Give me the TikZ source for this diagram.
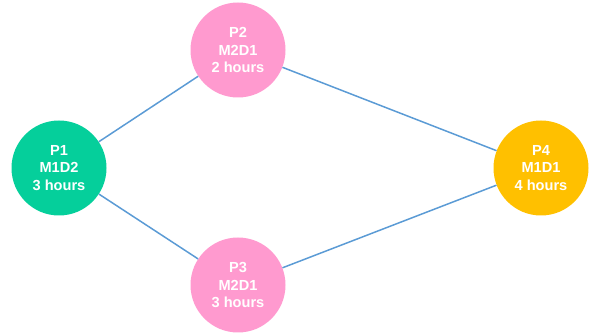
\documentclass[tikz,border=0pt]{standalone}
\usepackage{fontspec}
\setmainfont{Liberation Sans}
\definecolor{cgreen}{HTML}{05CF9B}
\definecolor{cpink}{HTML}{FF9ACF}
\definecolor{camber}{HTML}{FFC000}
\definecolor{cline}{HTML}{5B9BD5}
\begin{document}
\begin{tikzpicture}[x=1pt,y=1pt,
  proc/.style={circle,minimum size=95pt,inner sep=0pt,text=white,align=center,
    font=\fontsize{14.6}{17.5}\selectfont\bfseries},
  link/.style={draw=cline,line width=1.5pt}]
\useasboundingbox (0,0) rectangle (592,336);
\node[proc,fill=cgreen] (p1) at (59,168) {P1\\M1D2\\3 hours};
\node[proc,fill=cpink] (p2) at (238,286) {P2\\M2D1\\2 hours};
\node[proc,fill=cpink] (p3) at (238,51) {P3\\M2D1\\3 hours};
\node[proc,fill=camber] (p4) at (541,168) {P4\\M1D1\\4 hours};
\draw[link] (p1) -- (p2);
\draw[link] (p1) -- (p3);
\draw[link] (p2) -- (p4);
\draw[link] (p3) -- (p4);
\end{tikzpicture}
\end{document}
